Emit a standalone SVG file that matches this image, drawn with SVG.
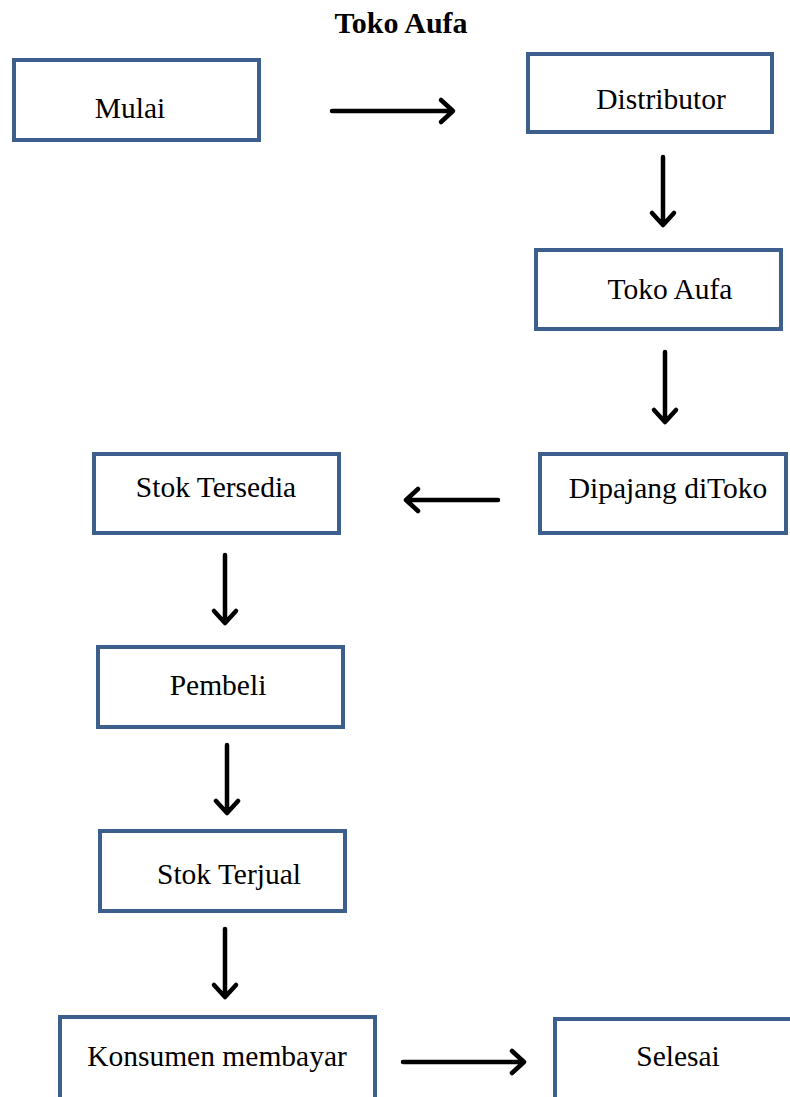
<svg xmlns="http://www.w3.org/2000/svg" width="790" height="1097" viewBox="0 0 790 1097">
<defs>
<style>
.box{fill:#fff;stroke:#3D5F8D;stroke-width:4}
.lbl{font-family:"Liberation Serif","Times New Roman",serif;font-size:29.5px;fill:#000}
.title{font-family:"Liberation Serif","Times New Roman",serif;font-size:30px;font-weight:bold;fill:#000}
.arr{fill:none;stroke:#000;stroke-width:4.5;stroke-linecap:round;stroke-linejoin:round}
</style>
</defs>
<rect width="790" height="1097" fill="#fff"/>
<text class="title" x="401" y="33" text-anchor="middle">Toko Aufa</text>
<g id="n-mulai"><rect class="box" x="14" y="60" width="245" height="80"/><text class="lbl" x="130" y="118" text-anchor="middle">Mulai</text></g>
<g id="n-distributor"><rect class="box" x="528" y="54" width="244" height="78"/><text class="lbl" x="661" y="109" text-anchor="middle">Distributor</text></g>
<g id="n-toko"><rect class="box" x="536" y="250" width="245" height="79"/><text class="lbl" x="670" y="299" text-anchor="middle">Toko Aufa</text></g>
<g id="n-dipajang"><rect class="box" x="540" y="454" width="246" height="79"/><text class="lbl" x="668" y="498" text-anchor="middle">Dipajang diToko</text></g>
<g id="n-stok"><rect class="box" x="94" y="454" width="245" height="79"/><text class="lbl" x="216" y="497" text-anchor="middle">Stok Tersedia</text></g>
<g id="n-pembeli"><rect class="box" x="98" y="647" width="245" height="80"/><text class="lbl" x="218" y="695" text-anchor="middle">Pembeli</text></g>
<g id="n-terjual"><rect class="box" x="100" y="831" width="245" height="80"/><text class="lbl" x="229" y="884" text-anchor="middle">Stok Terjual</text></g>
<g id="n-konsumen"><rect class="box" x="60" y="1017" width="315" height="90"/><text class="lbl" x="217" y="1066" text-anchor="middle">Konsumen membayar</text></g>
<g id="n-selesai"><rect class="box" x="555" y="1019" width="250" height="90"/><text class="lbl" x="678" y="1066" text-anchor="middle">Selesai</text></g>
<g id="connectors">
<path class="arr" d="M332 111H452M441 100L453 111L441 122"/>
<path class="arr" d="M663 157V224M652 213L663 225L674 213"/>
<path class="arr" d="M665 352V421M654 410L665 422L676 410"/>
<path class="arr" d="M498 500H407M418 489L406 500L418 511"/>
<path class="arr" d="M225 555V622M214 611L225 623L236 611"/>
<path class="arr" d="M227 745V812M216 801L227 813L238 801"/>
<path class="arr" d="M225 929V996M214 985L225 997L236 985"/>
<path class="arr" d="M403 1062H523M512 1051L524 1062L512 1073"/>
</g>
</svg>
